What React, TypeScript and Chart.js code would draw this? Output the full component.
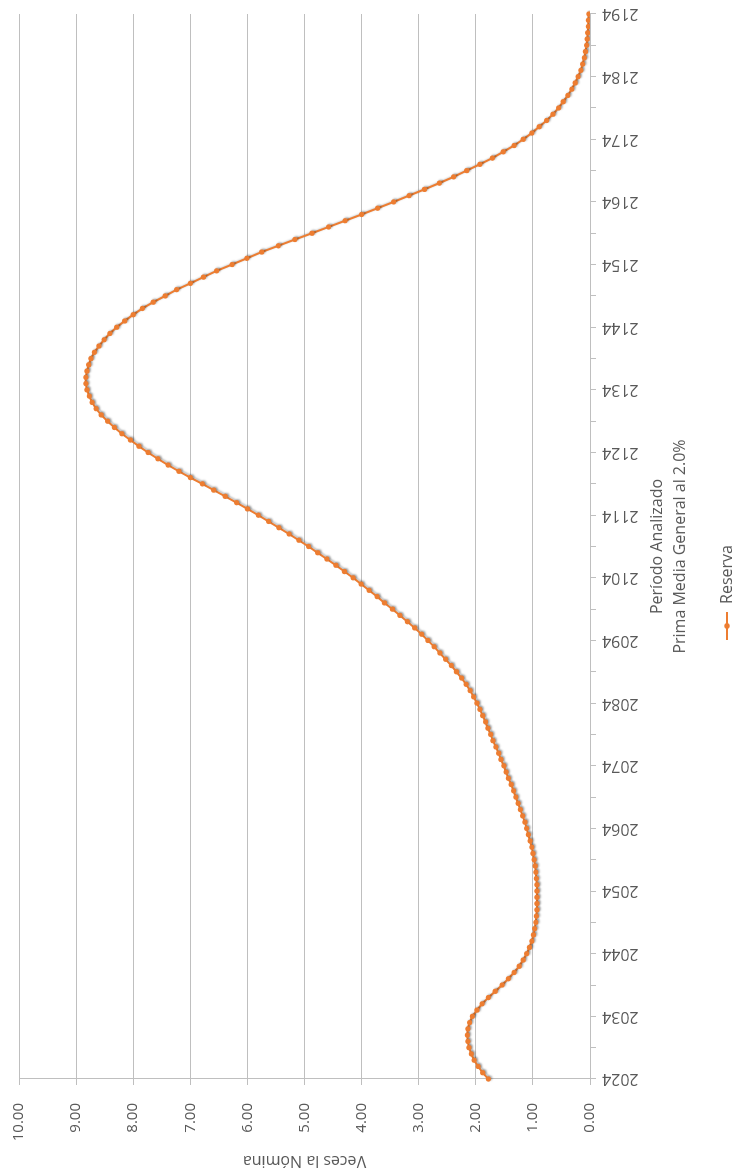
import { useEffect, useRef } from 'react';
import { Chart, registerables } from 'chart.js';

Chart.register(...registerables);

// Values (2024 .. 2194, one point per year)
const startYear = 2024;
const reserva = [
  1.78, 1.88, 1.96, 2.03, 2.08, 2.12, 2.14, 2.15, 2.14, 2.11,
  2.06, 1.98, 1.89, 1.78, 1.66, 1.54, 1.43, 1.33, 1.24, 1.17,
  1.11, 1.06, 1.02, 0.99, 0.97, 0.95, 0.94, 0.93, 0.93, 0.93,
  0.93, 0.93, 0.94, 0.95, 0.96, 0.98, 1.0, 1.02, 1.05, 1.08,
  1.11, 1.14, 1.18, 1.22, 1.26, 1.3, 1.34, 1.38, 1.43, 1.47,
  1.51, 1.56, 1.6, 1.65, 1.7, 1.74, 1.79, 1.83, 1.88, 1.93,
  1.98, 2.04, 2.1, 2.17, 2.25, 2.34, 2.43, 2.53, 2.63, 2.73,
  2.84, 2.95, 3.07, 3.2, 3.33, 3.46, 3.6, 3.73, 3.87, 4.01,
  4.15, 4.3, 4.45, 4.61, 4.77, 4.93, 5.1, 5.27, 5.45, 5.63,
  5.81, 6.0, 6.19, 6.39, 6.59, 6.79, 7.0, 7.2, 7.39, 7.57,
  7.74, 7.9, 8.05, 8.2, 8.33, 8.45, 8.56, 8.65, 8.72, 8.77,
  8.81, 8.83, 8.83, 8.81, 8.78, 8.74, 8.68, 8.6, 8.51, 8.41,
  8.29, 8.15, 8.0, 7.84, 7.65, 7.44, 7.24, 7.0, 6.77, 6.54,
  6.27, 6.01, 5.75, 5.46, 5.17, 4.87, 4.58, 4.29, 4.0, 3.72,
  3.44, 3.17, 2.9, 2.64, 2.39, 2.16, 1.93, 1.71, 1.52, 1.33,
  1.17, 1.02, 0.89, 0.76, 0.65, 0.55, 0.47, 0.39, 0.32, 0.26,
  0.21, 0.16, 0.13, 0.1, 0.08, 0.06, 0.05, 0.04, 0.03, 0.03,
  0.02,
];
const years = reserva.map((_, i) => String(startYear + i));
const seriesLabel = 'Reserva';
const xTitle = ['Período Analizado', 'Prima Media General al 2.0%'];
const yTitle = 'Veces la Nómina';
const yMin = 0;
const yMax = 10;
const yStep = 1;

const W = 1171;
const H = 738;
const FONT = "'Open Sans', 'Noto Sans', sans-serif";
const ORANGE = '#ED7D31';
const GRID = '#bfbfbf';
const TEXT = '#595959';

export default function App() {
  const ref = useRef<HTMLCanvasElement>(null);

  useEffect(() => {
    document.body.style.margin = '0';
    document.body.style.overflow = 'hidden';
    document.documentElement.style.overflow = 'hidden';

    const icon = document.createElement('canvas');
    icon.width = 28;
    icon.height = 10;
    const ic = icon.getContext('2d')!;
    ic.strokeStyle = ORANGE;
    ic.lineWidth = 2;
    ic.beginPath();
    ic.moveTo(0, 5);
    ic.lineTo(28, 5);
    ic.stroke();
    ic.fillStyle = ORANGE;
    ic.beginPath();
    ic.arc(14, 5, 2.8, 0, Math.PI * 2);
    ic.fill();

    const shadow = {
      id: 'lineShadow',
      beforeDatasetsDraw(chart: any) {
        const c = chart.ctx;
        c.save();
        c.shadowColor = 'rgba(0,0,0,0.28)';
        c.shadowBlur = 2;
        c.shadowOffsetX = 1;
        c.shadowOffsetY = 1.5;
      },
      afterDatasetsDraw(chart: any) {
        chart.ctx.restore();
      },
    };

    const chart = new Chart(ref.current!, {
      type: 'line',
      data: {
        labels: years,
        datasets: [
          {
            label: seriesLabel,
            data: reserva,
            borderColor: ORANGE,
            backgroundColor: ORANGE,
            borderWidth: 2,
            pointRadius: 2.6,
            pointBackgroundColor: ORANGE,
            pointBorderWidth: 0,
            tension: 0,
            fill: false,
          },
        ],
      },
      options: {
        responsive: false,
        animation: false,
        devicePixelRatio: 1,
        layout: { padding: { left: 0, right: 14, top: 19, bottom: -7 } },
        plugins: {
          legend: {
            position: 'bottom',
            labels: {
              usePointStyle: true,
              pointStyleWidth: 28,
              padding: 10,
              color: TEXT,
              font: { family: FONT, size: 16 },
              generateLabels: (ch: any) => {
                const items = (Chart.defaults.plugins.legend.labels as any).generateLabels(ch);
                items.forEach((it: any) => {
                  it.pointStyle = icon;
                });
                return items;
              },
            },
          },
          tooltip: { enabled: false },
        },
        scales: {
          x: {
            ticks: {
              autoSkip: false,
              minRotation: 90,
              maxRotation: 90,
              padding: 6,
              color: TEXT,
              font: { family: FONT, size: 16 },
              callback: (_v: any, i: number) => (i % 10 === 0 ? years[i] : ''),
            },
            grid: {
              drawOnChartArea: false,
              drawTicks: true,
              tickLength: 6,
              color: GRID,
              tickColor: (ctx: any) => (ctx.index % 5 === 0 ? GRID : 'rgba(0,0,0,0)'),
            },
            border: { display: true, color: GRID },
            title: {
              display: true,
              text: xTitle,
              color: TEXT,
              font: { family: FONT, size: 16, lineHeight: 1.4375 },
              padding: { top: 0, bottom: 17.5 },
            },
            afterFit: (s: any) => {
              s.height = 119;
              s.paddingLeft = 0;
              s.paddingRight = 0;
            },
          },
          y: {
            min: yMin,
            max: yMax,
            ticks: {
              stepSize: yStep,
              color: TEXT,
              font: { family: FONT, size: 15 },
              padding: 18,
              callback: (v: any) => Number(v).toFixed(2),
            },
            grid: { color: GRID, tickLength: 6, lineWidth: 1 },
            border: { display: true, color: GRID },
            title: {
              display: true,
              text: yTitle,
              color: TEXT,
              font: { family: FONT, size: 16 },
              padding: { top: 1, bottom: 0 },
            },
            afterFit: (s: any) => {
              s.width = 92;
              s.paddingTop = 0;
              s.paddingBottom = 0;
            },
          },
        },
      } as any,
      plugins: [shadow],
    });
    return () => chart.destroy();
  }, []);

  return (
    <div
      style={{
        position: 'fixed',
        left: 0,
        top: 0,
        width: W,
        height: H,
        background: '#fff',
        transformOrigin: '0 0',
        transform: `translate(0px, ${W}px) rotate(-90deg)`,
      }}
    >
      <canvas ref={ref} width={W} height={H} style={{ display: 'block', width: W, height: H }} />
    </div>
  );
}
